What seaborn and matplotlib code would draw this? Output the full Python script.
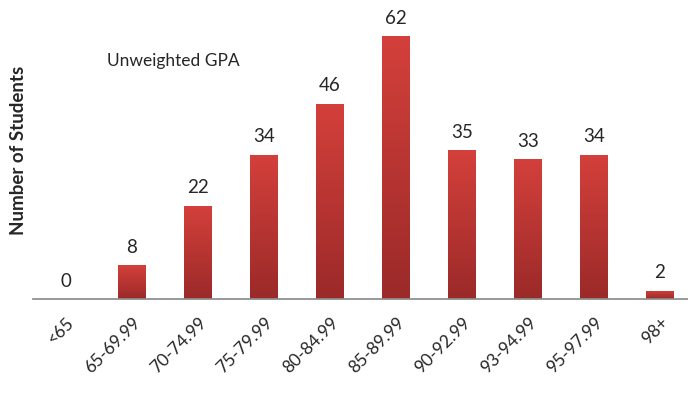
import numpy as np
import pandas as pd
import seaborn as sns
from matplotlib import pyplot as plt
from matplotlib import colors as mcolors

# 数据
ranges = ["<65", "65-69.99", "70-74.99", "75-79.99", "80-84.99",
          "85-89.99", "90-92.99", "93-94.99", "95-97.99", "98+"]
students = [0, 8, 22, 34, 46, 62, 35, 33, 34, 2]

sns.set_theme(style="white")
plt.rcParams["font.family"] = ["Lato", "DejaVu Sans"]

df = pd.DataFrame({"Range": ranges, "Students": students})

fig = plt.figure(figsize=(6.88, 4.11), dpi=100)
ax = fig.add_axes([33 / 688, 112 / 411, 660 / 688, 297 / 411])

sns.barplot(data=df, x="Range", y="Students", color="#c93a36",
            width=0.42, ax=ax)

# 渐变填充
grad = mcolors.LinearSegmentedColormap.from_list("g", ["#9b2a29", "#d4403b"])
for p in ax.patches:
    x0, y0 = p.get_x(), p.get_y()
    w, h = p.get_width(), p.get_height()
    if h <= 0:
        continue
    p.set_facecolor("none")
    p.set_edgecolor("none")
    img = ax.imshow(np.linspace(0, 1, 100).reshape(-1, 1), cmap=grad,
                    extent=[x0, x0 + w, y0, y0 + h], origin="lower",
                    aspect="auto", zorder=2)
    img.set_clip_path(p)

ax.set_xlim(-0.5, 9.5)
ax.set_ylim(0, 70)

for i, v in enumerate(students):
    ax.text(i, v + 2.2, str(v), ha="center", va="bottom", fontsize=13.5)

ax.set_yticks([])
ax.set_xticks(np.arange(-0.5, 10, 1), minor=True)
ax.tick_params(axis="x", which="major", length=0, pad=11)
ax.tick_params(axis="x", which="minor", length=8, color="#8c8c8c", width=1)
ax.set_xticklabels(ranges, rotation=45, ha="right", rotation_mode="anchor",
                   fontsize=12.5)
ax.set_xlabel("")
ax.set_ylabel("Number of Students", fontsize=13.5, fontweight="bold", labelpad=4)

sns.despine(ax=ax, left=True, top=True, right=True)
ax.spines["bottom"].set_color("#8c8c8c")

ax.text(0.62, 56, "Unweighted GPA", fontsize=12.5, ha="left", va="center")

plt.savefig("out.png", dpi=100)
plt.close()
